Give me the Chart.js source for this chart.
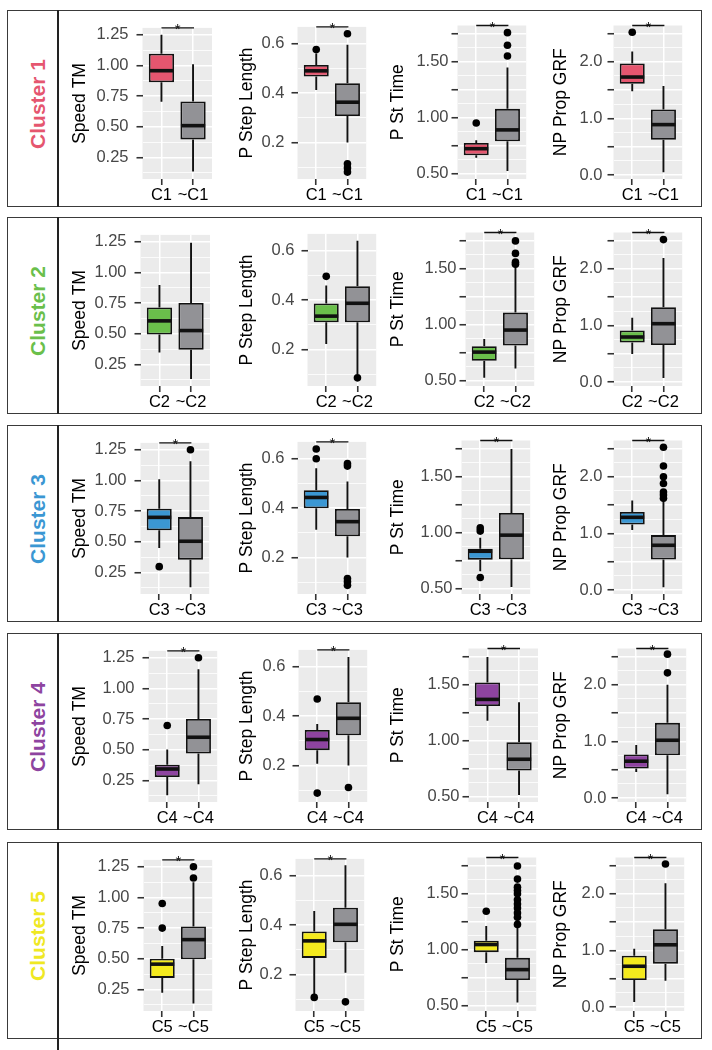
<!DOCTYPE html>
<html><head><meta charset="utf-8">
<script src="https://cdn.jsdelivr.net/npm/chart.js@4"></script>
<style>
html,body{margin:0;padding:0;background:#fff;}
#wrap{position:relative;width:712px;height:1050px;overflow:hidden;font-family:"Liberation Sans",Arial,sans-serif;}
.frame{position:absolute;left:7px;width:695px;height:197px;border:1.6px solid #3a3a3a;box-sizing:border-box;}
.divider{position:absolute;left:57px;width:1.7px;background:#222;}
.clabel{position:absolute;left:37px;transform:translate(-50%,-50%) rotate(-90deg);font-weight:bold;font-size:21px;white-space:nowrap;line-height:1;}
canvas{position:absolute;}
</style></head><body><div id="wrap"></div>
<script>
// ---------- DATA ----------
const clusters = ['C1','C2','C3','C4','C5'];
const measures = ['Speed TM','P Step Length','P St Time','NP Prop GRF'];
// box stats: [whiskerLow, Q1, median, Q3, whiskerHigh]
const speedIn  = [[0.703,0.863,0.957,1.095,1.25],[0.348,0.494,0.605,0.714,0.897],[0.45,0.594,0.699,0.77,1.01],[0.13,0.277,0.343,0.378,0.503],[0.223,0.344,0.456,0.501,0.603]];
const speedOut = [[0.135,0.397,0.509,0.706,1.01],[0.131,0.369,0.526,0.751,1.242],[0.13,0.354,0.504,0.701,1.157],[0.218,0.469,0.602,0.751,1.157],[0.135,0.496,0.656,0.763,1.124]];
const speedInOutliers  = [[],[],[0.297],[0.698],[0.95,0.75]];
const speedOutOutliers = [[],[],[1.25],[1.25],[1.25,1.159]];

const stepIn  = [[0.412,0.467,0.49,0.514,0.56],[0.222,0.31,0.335,0.386,0.459],[0.312,0.399,0.443,0.472,0.561],[0.207,0.262,0.305,0.344,0.368],[0.12,0.267,0.336,0.374,0.457]];
const stepOut = [[0.2,0.307,0.363,0.44,0.596],[0.10,0.31,0.387,0.456,0.64],[0.2,0.286,0.345,0.396,0.508],[0.2,0.322,0.391,0.456,0.639],[0.207,0.33,0.403,0.47,0.642]];
const stepInOutliers  = [[0.576],[0.496],[0.639,0.6],[0.469,0.088],[0.107]];
const stepOutOutliers = [[0.64,0.114,0.097,0.080],[0.085],[0.58,0.57,0.115,0.102,0.087],[0.111],[0.089]];

const stTimeIn  = [[0.642,0.665,0.724,0.775,0.80],[0.526,0.679,0.756,0.809,0.874],[0.657,0.76,0.835,0.858,0.956],[1.18,1.311,1.37,1.521,1.748],[0.883,0.979,1.047,1.082,1.213]];
const stTimeOut = [[0.524,0.791,0.892,1.08,1.45],[0.609,0.815,0.953,1.109,1.52],[0.515,0.763,0.979,1.178,1.75],[0.515,0.735,0.835,0.988,1.344],[0.53,0.729,0.823,0.928,1.2]];
const stTimeInOutliers  = [[0.953],[],[1.044,1.015,0.6],[],[1.345]];
const stTimeOutOutliers = [[1.761,1.648,1.553],[1.75,1.638,1.56,1.541],[],[],[1.749,1.632,1.56,1.53,1.5,1.447,1.41,1.374,1.33,1.29,1.227]];

const grfIn  = [[1.48,1.61,1.73,1.97,2.18],[0.497,0.696,0.795,0.912,1.135],[1.06,1.155,1.284,1.378,1.58],[0.46,0.52,0.65,0.77,0.935],[0.087,0.478,0.72,0.907,1.03]];
const grfOut = [[0.05,0.623,0.89,1.157,1.57],[0.07,0.655,1.03,1.32,2.19],[0.05,0.54,0.79,0.97,1.57],[0.065,0.755,1.02,1.327,2.0],[0.466,0.766,1.099,1.373,2.187]];
const grfInOutliers  = [[2.52],[],[],[],[]];
const grfOutOutliers = [[],[2.515],[2.52,2.19,2.0,1.88,1.73,1.68,1.62],[2.54,2.21],[2.525]];

// significance bracket shown (row = cluster, col = measure)
const significant = [[1,1,1,1],[0,0,1,1],[1,1,1,1],[1,1,1,1],[1,1,1,1]];

// axis settings per measure
const yRanges = [[0.074,1.306],[0.052,0.668],[0.453,1.825],[-0.07,2.64]];
const yMinorSteps = [0.125,0.1,0.125,0.25];
const yMajorSteps = [0.25,0.2,0.25,0.5];
const yLabelled = [[0.25,0.5,0.75,1.0,1.25],[0.2,0.4,0.6],[0.5,1.0,1.5],[0,1,2]];
const yDecimals = [2,1,2,1];

// ---------- STYLE / LAYOUT ----------
const clusterColors = ['#E5566F','#6ABF4B','#3B97D3','#8E44A0','#F4EA1E'];
const labelColors = ['#E5566F','#6ABF4B','#3B97D3','#8E44A0','#EFE823'];
const grayFill = '#929296';
const rowTops = [10,217,425,633,842];
const rowH = 197;
const plotLefts = [[142,297,457,613],[140,307,465,613],[140,297,461,613],[148,298,468,617],[143,295,467,615]];
const titleXs = [80,247,398,561];
const tickPads = [8,7,3,5];
const plotW = 70;
const FAM = '"Liberation Sans", Arial, sans-serif';
Chart.defaults.font.family = FAM;

const statsIn = [speedIn, stepIn, stTimeIn, grfIn];
const statsOut = [speedOut, stepOut, stTimeOut, grfOut];
const outlIn = [speedInOutliers, stepInOutliers, stTimeInOutliers, grfInOutliers];
const outlOut = [speedOutOutliers, stepOutOutliers, stTimeOutOutliers, grfOutOutliers];

const near = (a,b)=>Math.abs(a-b)<1e-6;
const isMult = (v,s)=>Math.abs(v/s-Math.round(v/s))<1e-6;

const bgPlugin = {id:'panelbg', beforeDraw(chart){
  const {ctx, chartArea:a} = chart;
  ctx.save(); ctx.fillStyle='#EBEBEB';
  ctx.fillRect(a.left,a.top,a.right-a.left,a.bottom-a.top); ctx.restore();
}};

const boxPlugin = {id:'boxplot',
  beforeDatasetsDraw(chart, args, opts){
    const xs=chart.scales.x, ys=chart.scales.y, ctx=chart.ctx;
    ctx.save(); ctx.strokeStyle='#111'; ctx.lineWidth=1.9; ctx.lineCap='butt';
    opts.stats.forEach((s,i)=>{
      const px = xs.getPixelForValue(i+1);
      ctx.beginPath();
      ctx.moveTo(px, ys.getPixelForValue(s[0])); ctx.lineTo(px, ys.getPixelForValue(s[1]));
      ctx.moveTo(px, ys.getPixelForValue(s[3])); ctx.lineTo(px, ys.getPixelForValue(s[4]));
      ctx.stroke();
    });
    ctx.restore();
  },
  afterDatasetsDraw(chart, args, opts){
    const xs=chart.scales.x, ys=chart.scales.y, ctx=chart.ctx;
    const meta = chart.getDatasetMeta(1);
    ctx.save(); ctx.strokeStyle='#111';
    opts.stats.forEach((s,i)=>{
      const bar = meta.data[i]; const half = bar.width/2;
      const py = ys.getPixelForValue(s[2]);
      ctx.lineWidth=3.6; ctx.beginPath();
      ctx.moveTo(bar.x-half+0.5, py); ctx.lineTo(bar.x+half-0.5, py); ctx.stroke();
    });
    if (opts.sig){
      const top = chart.chartArea.top;
      const x1 = xs.getPixelForValue(1), x2 = xs.getPixelForValue(2.03);
      ctx.lineWidth=1.3; ctx.beginPath(); ctx.moveTo(x1, top); ctx.lineTo(x2, top); ctx.stroke();
      ctx.fillStyle='#111'; ctx.font='15px '+FAM; ctx.textAlign='center'; ctx.textBaseline='alphabetic';
      ctx.fillText('*', (x1+x2)/2, top+6.5);
    }
    ctx.restore();
  }
};

const wrap = document.getElementById('wrap');

clusters.forEach((cl, r)=>{
  const top = rowTops[r];
  const fr = document.createElement('div'); fr.className='frame'; fr.style.top=top+'px'; wrap.appendChild(fr);
  const dv = document.createElement('div'); dv.className='divider'; dv.style.top=top+'px';
  dv.style.height = (r===clusters.length-1 ? (1050-top) : rowH)+'px'; wrap.appendChild(dv);
  const lb = document.createElement('div'); lb.className='clabel'; lb.textContent='Cluster '+(r+1);
  lb.style.top=(top+94)+'px'; lb.style.color=labelColors[r]; wrap.appendChild(lb);

  measures.forEach((m, c)=>{
    const plotLeft = plotLefts[r][c];
    const axisW = plotLeft - titleXs[c] + 10.5;
    const cw = axisW + plotW + 3;
    const cv = document.createElement('canvas');
    cv.width = cw; cv.height = rowH;
    cv.style.left = (plotLeft-axisW)+'px'; cv.style.top = top+'px';
    cv.style.width = cw+'px'; cv.style.height = rowH+'px';
    wrap.appendChild(cv);

    const sIn = statsIn[c][r], sOut = statsOut[c][r];
    const pts = outlIn[c][r].map(v=>({x:1,y:v})).concat(outlOut[c][r].map(v=>({x:2,y:v})));
    const [ymin,ymax] = yRanges[c];
    const minor = yMinorSteps[c], major = yMajorSteps[c];
    const labs = yLabelled[c];
    const grpLabels = [cl, '~'+cl];

    new Chart(cv.getContext('2d'), {
      type:'bar',
      data:{datasets:[
        {type:'scatter', data:pts, pointRadius:3.8, pointHoverRadius:3.8, backgroundColor:'#000', borderColor:'#000', borderWidth:0, order:0, clip:false},
        {type:'bar', data:[{x:1,y:[sIn[1],sIn[3]]},{x:2,y:[sOut[1],sOut[3]]}],
         backgroundColor:[clusterColors[r], grayFill], borderColor:'#111', borderWidth:1.8,
         borderSkipped:false, barPercentage:0.8, categoryPercentage:1, order:1}
      ]},
      options:{
        responsive:false, animation:false, devicePixelRatio:1,
        layout:{padding:{top:15.5,left:0,right:3,bottom:0}},
        events:[],
        plugins:{legend:{display:false}, tooltip:{enabled:false},
          boxplot:{stats:[sIn,sOut], sig: !!significant[r][c]}},
        scales:{
          x:{type:'linear', min:0.4, max:2.6, offset:false,
            afterBuildTicks:s=>{s.ticks=[{value:1},{value:2}];},
            afterFit:s=>{s.height=28;},
            grid:{color:'#ffffff', lineWidth:1.5, tickColor:'#333', tickLength:6, tickWidth:1.6, offset:false, drawTicks:true},
            border:{display:false},
            ticks:{autoSkip:false, maxRotation:0, minRotation:0, padding:1, color:'#000', font:{size:16.5},
              callback:v=> near(v,1)?grpLabels[0]:(near(v,2)?grpLabels[1]:'')}
          },
          y:{type:'linear', min:ymin, max:ymax,
            afterBuildTicks:s=>{
              const t=[]; const k0=Math.ceil(ymin/minor-1e-9), k1=Math.floor(ymax/minor+1e-9);
              for(let k=k0;k<=k1;k++) t.push({value:+(k*minor).toFixed(5)});
              s.ticks=t;
            },
            afterFit:s=>{s.width=axisW;},
            grid:{color:'#ffffff',
              lineWidth:ctx=> (ctx.tick && isMult(ctx.tick.value,major)) ? 1.5 : 0.8,
              tickColor:ctx=> (ctx.tick && isMult(ctx.tick.value,major)) ? '#333' : 'rgba(0,0,0,0)',
              tickLength:6, tickWidth:1.6, drawTicks:true},
            border:{display:false},
            title:{display:true, text:m, color:'#000', font:{size:17.5, lineHeight:1.2}, padding:{top:0,bottom:0}},
            ticks:{autoSkip:false, padding:tickPads[c], color:'#474747', font:{size:16.5},
              callback:v=> labs.some(l=>near(l,v)) ? Number(v).toFixed(yDecimals[c]) : ''}
          }
        }
      },
      plugins:[bgPlugin, boxPlugin]
    });
  });
});
</script>
</body></html>
